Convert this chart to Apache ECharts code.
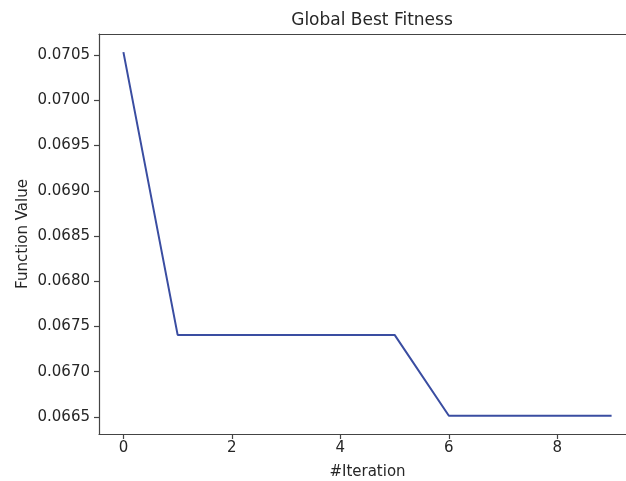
<!DOCTYPE html>
<html>
<head>
<meta charset="utf-8">
<script src="https://cdn.jsdelivr.net/npm/echarts@6/dist/echarts.min.js"></script>
<style>html,body{margin:0;padding:0;background:#fff}#c{width:626px;height:481px}</style>
</head>
<body>
<div id="c"></div>
<script>
var iterations = [0, 1, 2, 3, 4, 5, 6, 7, 8, 9];
var fitness = [0.070533, 0.067406, 0.067406, 0.067406, 0.067406, 0.067406, 0.066512, 0.066512, 0.066512, 0.066512];
var xTicks = [0, 2, 4, 6, 8];
var yTicks = [0.0665, 0.0670, 0.0675, 0.0680, 0.0685, 0.0690, 0.0695, 0.0700, 0.0705];

var font = 'DejaVu Sans';
var textColor = '#262626';
var spine = '#444444';
var chart = echarts.init(document.getElementById('c'), null, {renderer: 'canvas'});
chart.setOption({
  animation: false,
  backgroundColor: '#ffffff',
  title: {
    text: 'Global Best Fitness',
    left: 367, top: 7, textAlign: 'center',
    textStyle: {fontFamily: font, fontSize: 17, fontWeight: 'normal', color: textColor}
  },
  grid: {left: 99, top: 34, width: 537, height: 400, show: false, containLabel: false, outerBoundsMode: 'none'},
  xAxis: [{
    type: 'value', min: -0.45, max: 9.45,
    name: '#Iteration', nameLocation: 'middle', nameGap: 31,
    nameTextStyle: {fontFamily: font, fontSize: 15, color: textColor},
    axisLine: {show: true, onZero: false, lineStyle: {color: spine, width: 1.2}},
    axisTick: {show: true, length: 5, inside: false, customValues: xTicks, lineStyle: {color: spine, width: 1.2}},
    axisLabel: {customValues: xTicks, fontFamily: font, fontSize: 15, color: textColor, margin: 7},
    splitLine: {show: false}
  }, {
    type: 'value', position: 'top', min: -0.45, max: 9.45,
    axisLine: {show: true, onZero: false, lineStyle: {color: spine, width: 1.2}},
    axisTick: {show: false}, axisLabel: {show: false}, splitLine: {show: false}
  }],
  yAxis: {
    type: 'value', min: 0.06631, max: 0.070734,
    name: 'Function Value', nameLocation: 'middle', nameGap: 68, nameRotate: 90,
    nameMoveOverlap: false,
    nameTextStyle: {fontFamily: font, fontSize: 15, color: textColor},
    axisLine: {show: true, onZero: false, lineStyle: {color: spine, width: 1.2}},
    axisTick: {show: true, length: 5, inside: false, customValues: yTicks, lineStyle: {color: spine, width: 1.2}},
    axisLabel: {customValues: yTicks, fontFamily: font, fontSize: 15, color: textColor, margin: 9,
      formatter: function (v) { return v.toFixed(4); }},
    splitLine: {show: false}
  },
  series: [{
    type: 'line',
    xAxisIndex: 0,
    data: iterations.map(function (x, i) { return [x, fitness[i]]; }),
    showSymbol: false,
    lineStyle: {color: '#3a4da1', width: 2},
    itemStyle: {color: '#3a4da1'}
  }]
});
</script>
</body>
</html>
